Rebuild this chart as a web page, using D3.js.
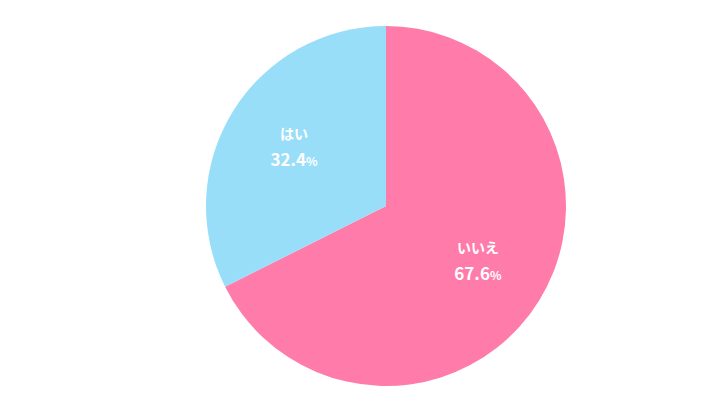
<!DOCTYPE html>
<html><head><meta charset="utf-8">
<script src="https://cdn.jsdelivr.net/npm/d3@7"></script>
<style>body{margin:0;background:#fff}</style>
</head><body>
<svg id="chart" width="720" height="405"></svg>
<script>
const labels = ["いいえ", "はい"];
const values = [67.6, 32.4];
const colors = ["#FF7BA9", "#99DEF9"];

const cx = 386, cy = 206, r = 180;
const svg = d3.select("#chart");
const g = svg.append("g").attr("transform", `translate(${cx},${cy})`);

const pie = d3.pie().sort(null).value(d => d)(values);
const arc = d3.arc().innerRadius(0).outerRadius(r);
const labelArc = d3.arc().innerRadius(r * 0.6).outerRadius(r * 0.6);

g.selectAll("path").data(pie).join("path")
  .attr("d", arc).attr("fill", (d, i) => colors[i]);

const lab = g.selectAll("g.lab").data(pie).join("g")
  .attr("class", "lab")
  .attr("transform", d => { const [x, y] = labelArc.centroid(d); return `translate(${x},${y})`; })
  .attr("fill", "#fff").attr("font-family", "'Noto Sans CJK JP', sans-serif")
  .attr("font-weight", "bold").attr("text-anchor", "middle");

lab.append("text").attr("y", -10).attr("font-size", 14).text((d, i) => labels[i]);
const t = lab.append("text").attr("y", 17).attr("font-size", 17);
t.append("tspan").text(d => d.data.toFixed(1));
t.append("tspan").attr("font-size", 12).text("%");
</script>
</body></html>
